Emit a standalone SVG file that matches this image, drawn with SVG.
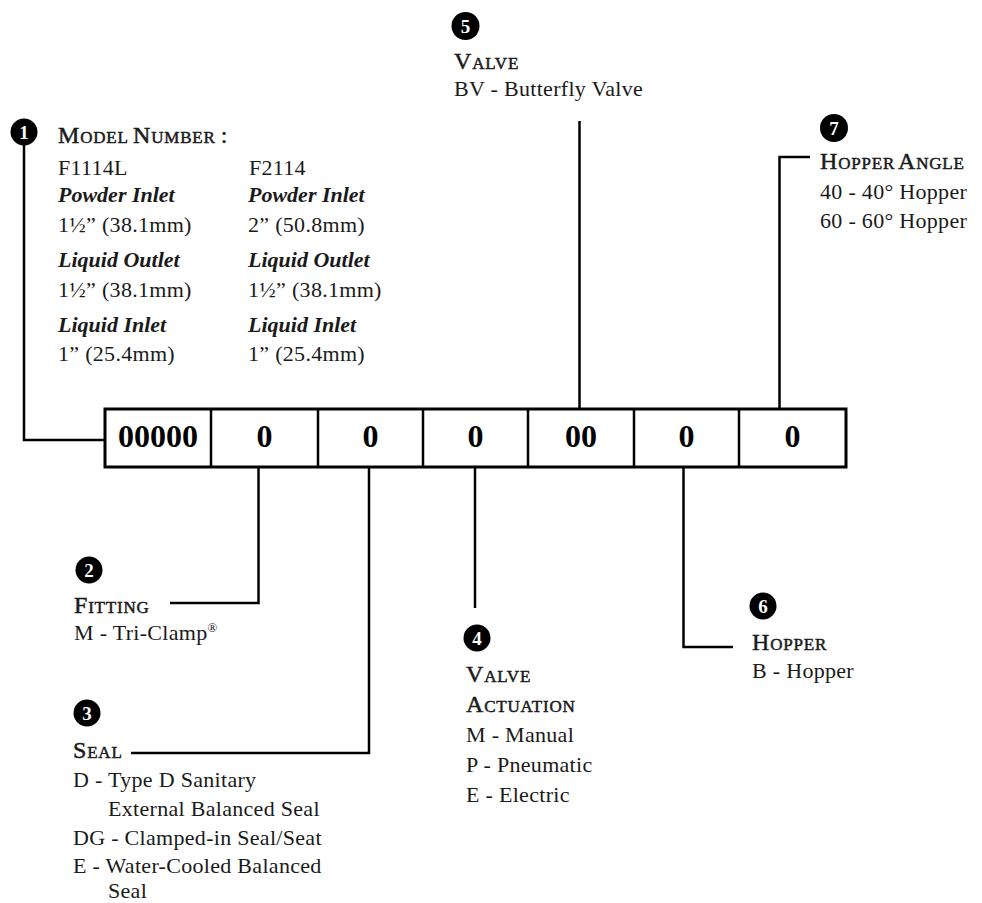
<svg xmlns="http://www.w3.org/2000/svg" width="982" height="903" viewBox="0 0 982 903">
<style>
  .body{font-family:"Liberation Serif","Times New Roman",serif;font-size:22px;fill:#1a1a1a;letter-spacing:0.3px}
  .sub{font-family:"Liberation Serif","Times New Roman",serif;font-size:22px;font-style:italic;font-weight:bold;fill:#1a1a1a}
  .head{font-family:"Liberation Serif","Times New Roman",serif;font-size:17px;fill:#1a1a1a;stroke:#1a1a1a;stroke-width:0.5;letter-spacing:0.8px}
  .big{font-size:24px}
  .num{font-family:"Liberation Serif","Times New Roman",serif;font-size:19px;font-weight:bold;fill:#fff;text-anchor:middle}
  .dot{fill:#000}
  .cell{font-family:"Liberation Serif","Times New Roman",serif;font-size:32px;font-weight:bold;fill:#000;text-anchor:middle}
  .ln{fill:none;stroke:#000;stroke-width:2.5}
  .box{fill:#fff;stroke:#000;stroke-width:3}
</style>

<g id="connectors">
  <polyline class="ln" points="24,145 24,440 105,440" stroke-width="2"/>
  <polyline class="ln" points="579.5,121 579.5,409"/>
  <polyline class="ln" points="810,157 779.5,157 779.5,409"/>
  <polyline class="ln" points="258.5,467 258.5,603 170,603"/>
  <polyline class="ln" points="369,467 369,753 131,753"/>
  <polyline class="ln" points="475,467 475,608"/>
  <polyline class="ln" points="683.5,467 683.5,647 733,647"/>
</g>

<g id="code-box">
  <rect class="box" x="105" y="409" width="741" height="58"/>
  <line class="ln" x1="211" y1="409" x2="211" y2="467" stroke-width="3"/>
  <line class="ln" x1="318" y1="409" x2="318" y2="467" stroke-width="3"/>
  <line class="ln" x1="423" y1="409" x2="423" y2="467" stroke-width="3"/>
  <line class="ln" x1="528" y1="409" x2="528" y2="467" stroke-width="3"/>
  <line class="ln" x1="634" y1="409" x2="634" y2="467" stroke-width="3"/>
  <line class="ln" x1="739" y1="409" x2="739" y2="467" stroke-width="3"/>
  <text class="cell" x="158" y="447">00000</text>
  <text class="cell" x="264.5" y="447">0</text>
  <text class="cell" x="370.5" y="447">0</text>
  <text class="cell" x="475.5" y="447">0</text>
  <text class="cell" x="581" y="447">00</text>
  <text class="cell" x="686.5" y="447">0</text>
  <text class="cell" x="792.5" y="447">0</text>
</g>

<g id="n1">
  <circle class="dot" cx="24" cy="132" r="13.5"/>
  <text class="num" x="24" y="139">1</text>
  <text class="head" x="58" y="143"><tspan class="big">M</tspan>ODEL <tspan class="big">N</tspan>UMBER <tspan class="big">:</tspan></text>
  <text class="body" x="58" y="175">F1114L</text>
  <text class="body" x="249" y="175">F2114</text>
  <text class="sub" x="58" y="202">Powder Inlet</text>
  <text class="sub" x="248" y="202">Powder Inlet</text>
  <text class="body" x="58" y="232">1½” (38.1mm)</text>
  <text class="body" x="248" y="232">2” (50.8mm)</text>
  <text class="sub" x="58" y="267">Liquid Outlet</text>
  <text class="sub" x="248" y="267">Liquid Outlet</text>
  <text class="body" x="58" y="297">1½” (38.1mm)</text>
  <text class="body" x="248" y="297">1½” (38.1mm)</text>
  <text class="sub" x="58" y="332">Liquid Inlet</text>
  <text class="sub" x="248" y="332">Liquid Inlet</text>
  <text class="body" x="58" y="361">1” (25.4mm)</text>
  <text class="body" x="248" y="361">1” (25.4mm)</text>
</g>

<g id="n5">
  <circle class="dot" cx="465.5" cy="26" r="14"/>
  <text class="num" x="465.5" y="33">5</text>
  <text class="head" x="454" y="69"><tspan class="big">V</tspan>ALVE</text>
  <text class="body" x="454" y="96">BV - Butterfly Valve</text>
</g>

<g id="n7">
  <circle class="dot" cx="834" cy="128" r="14"/>
  <text class="num" x="834" y="135">7</text>
  <text class="head" x="820" y="169"><tspan class="big">H</tspan>OPPER<tspan class="big" dx="3">A</tspan>NGLE</text>
  <text class="body" x="820" y="199">40 - 40° Hopper</text>
  <text class="body" x="820" y="228">60 - 60° Hopper</text>
</g>

<g id="n2">
  <circle class="dot" cx="89" cy="570" r="13.5"/>
  <text class="num" x="89" y="577">2</text>
  <text class="head" x="74" y="613"><tspan class="big">F</tspan>ITTING</text>
  <text class="body" x="74" y="640">M - Tri-Clamp<tspan font-size="13" dy="-8">®</tspan></text>
</g>

<g id="n3">
  <circle class="dot" cx="87" cy="713" r="13.5"/>
  <text class="num" x="87" y="720">3</text>
  <text class="head" x="73" y="758"><tspan class="big">S</tspan>EAL</text>
  <text class="body" x="73" y="787">D - Type D Sanitary</text>
  <text class="body" x="108" y="816">External Balanced Seal</text>
  <text class="body" x="73" y="845">DG - Clamped-in Seal/Seat</text>
  <text class="body" x="73" y="873">E - Water-Cooled Balanced</text>
  <text class="body" x="108" y="898">Seal</text>
</g>

<g id="n4">
  <circle class="dot" cx="477" cy="638" r="13.5"/>
  <text class="num" x="477" y="645">4</text>
  <text class="head" x="466" y="682"><tspan class="big">V</tspan>ALVE</text>
  <text class="head" x="466" y="712"><tspan class="big">A</tspan>CTUATION</text>
  <text class="body" x="466" y="742">M - Manual</text>
  <text class="body" x="466" y="772">P - Pneumatic</text>
  <text class="body" x="466" y="802">E - Electric</text>
</g>

<g id="n6">
  <circle class="dot" cx="763" cy="606" r="13.5"/>
  <text class="num" x="763" y="613">6</text>
  <text class="head" x="752" y="650"><tspan class="big">H</tspan>OPPER</text>
  <text class="body" x="752" y="678">B - Hopper</text>
</g>
</svg>
